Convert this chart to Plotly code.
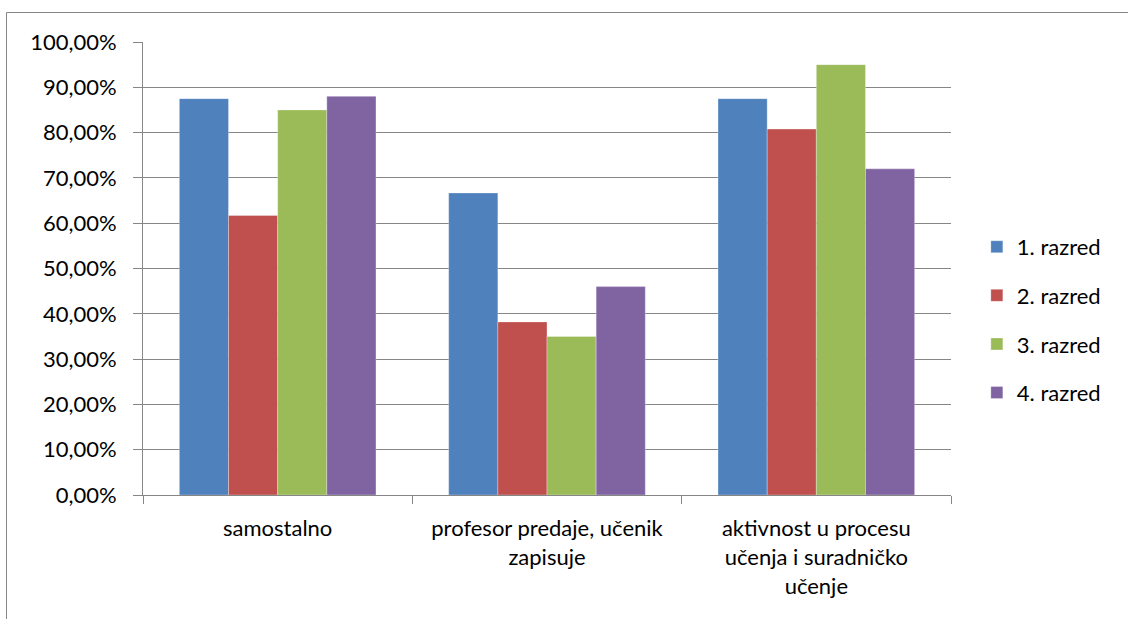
import plotly.graph_objects as go

categories = ["samostalno", "profesor predaje, učenik<br>zapisuje",
              "aktivnost u procesu<br>učenja i suradničko<br>učenje"]
series_names = ["1. razred", "2. razred", "3. razred", "4. razred"]
values = {
    "1. razred": [0.875, 0.6667, 0.875],
    "2. razred": [0.617, 0.382, 0.8077],
    "3. razred": [0.85, 0.35, 0.95],
    "4. razred": [0.88, 0.46, 0.72],
}
colors = ["#4F81BD", "#C0504D", "#9BBB59", "#8064A2"]
y_ticks = [i / 10 for i in range(11)]
y_tick_labels = [f"{v*100:.2f}%".replace(".", ",") for v in y_ticks]

FONT = "Lato, 'Liberation Sans', sans-serif"

fig = go.Figure()
for name, col in zip(series_names, colors):
    fig.add_trace(go.Bar(
        x=categories, y=values[name], name=name,
        marker=dict(color=col, line=dict(color="rgba(255,255,255,0.6)", width=0.5)),
        legendgroup=name,
    ))

L, R, T, B = 143, 177, 42, 124
W, H = 1128, 619
pw, ph = W - L - R, H - T - B

fig.update_layout(
    width=W, height=H,
    margin=dict(l=L, r=R, t=T, b=B, autoexpand=False),
    paper_bgcolor="white", plot_bgcolor="white",
    barmode="group", bargap=0.27, bargroupgap=0,
    font=dict(family=FONT, size=22, color="#000000"),
    showlegend=True,
    legend=dict(
        xref="container", yref="container",
        x=0.866, y=0.635, xanchor="left", yanchor="top",
        traceorder="grouped", tracegroupgap=17,
        itemwidth=30,
        font=dict(family=FONT, size=22, color="#000000"),
        bgcolor="rgba(0,0,0,0)",
    ),
    xaxis=dict(
        type="category", tickson="boundaries",
        ticks="outside", ticklen=8, tickcolor="#868686", tickwidth=1,
        showline=True, linecolor="#868686", linewidth=1,
        showgrid=False, tickangle=0, ticklabelstandoff=14,
        tickfont=dict(family=FONT, size=22, color="#000000"),
    ),
    yaxis=dict(
        range=[0, 1], tickvals=y_ticks, ticktext=y_tick_labels,
        ticks="outside", ticklen=9, tickcolor="#868686", tickwidth=1,
        showline=True, linecolor="#868686", linewidth=1,
        showgrid=True, gridcolor="#868686", gridwidth=1,
        zeroline=False, ticklabelstandoff=12,
        tickfont=dict(family=FONT, size=22, color="#000000"),
    ),
    shapes=[dict(
        type="rect", xref="paper", yref="paper",
        x0=(6.5 - L) / pw, x1=(1140 - L) / pw,
        y0=-(640 - (H - B)) / ph,
        y1=((H - B) - 12.5) / ph,
        line=dict(color="#868686", width=1),
        fillcolor="rgba(0,0,0,0)", layer="below",
    )],
)

fig.write_html("out.html",
               config={"displayModeBar": False},
               post_script="document.body.style.margin='0px';document.body.style.overflow='hidden';")
